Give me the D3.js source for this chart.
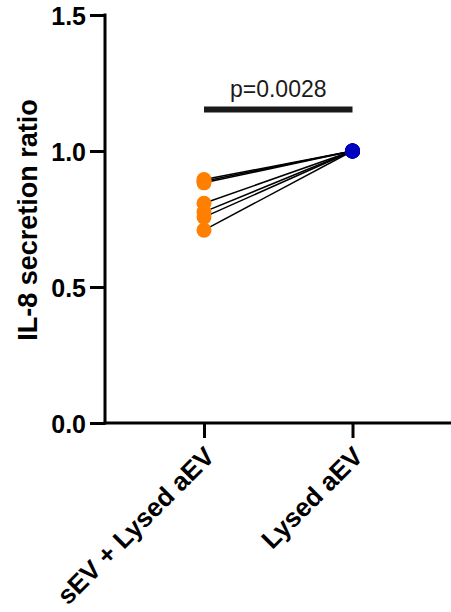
<!DOCTYPE html>
<html><head><meta charset="utf-8">
<script src="https://cdn.jsdelivr.net/npm/d3@7"></script>
<style>body{margin:0;background:#fff}svg{display:block}</style>
</head><body>
<svg id="c" width="451" height="612"></svg>
<script>
const categories = ["sEV + Lysed aEV", "Lysed aEV"];
const beforeValues = [0.895, 0.889, 0.883, 0.808, 0.776, 0.757, 0.709];
const afterValues = [1.0, 1.0, 1.0, 1.0, 1.0, 1.0, 1.0];
const yTicks = [0.0, 0.5, 1.0, 1.5];
const pLabel = "p=0.0028";
const yTitle = "IL-8 secretion ratio";
const pointColors = ["#FF8000", "#0000BF"];

const svg = d3.select("#c");
const font = "'Liberation Sans', Arial, sans-serif";
const x0 = 105, yBottom = 423, yTop = 15;

const y = d3.scaleLinear().domain([0, 1.5]).range([yBottom, yTop]);
const x = d3.scalePoint().domain(categories).range([204, 352.5]);

// axes
const yAxis = svg.append("g").attr("transform", `translate(${x0},0)`)
  .call(d3.axisLeft(y).tickValues(yTicks).tickFormat(d3.format(".1f")).tickSize(15).tickPadding(4));
yAxis.select(".domain").remove();
yAxis.selectAll(".tick line").attr("stroke", "#000").attr("stroke-width", 3);
yAxis.selectAll(".tick text").attr("font-family", font).attr("font-size", 25).attr("font-weight", "bold").attr("fill", "#000").attr("dy", "0.36em");
svg.append("line").attr("x1", x0).attr("x2", x0).attr("y1", yTop - 1.5).attr("y2", yBottom + 1.5).attr("stroke", "#000").attr("stroke-width", 3);

const xAxis = svg.append("g").attr("transform", `translate(0,${yBottom})`)
  .call(d3.axisBottom(x).tickSize(15).tickFormat(""));
xAxis.select(".domain").remove();
xAxis.selectAll(".tick line").attr("stroke", "#000").attr("stroke-width", 3);
svg.append("line").attr("x1", x0 - 1.5).attr("x2", 451).attr("y1", yBottom).attr("y2", yBottom).attr("stroke", "#000").attr("stroke-width", 3);

svg.selectAll(".xlab").data(categories).enter().append("text")
  .attr("transform", d => `translate(${x(d) + 12},${yBottom + 35}) rotate(-45)`)
  .attr("text-anchor", "end").attr("font-family", font).attr("font-size", 26).attr("font-weight", "bold")
  .text(d => d);

// y title
svg.append("text").attr("transform", `translate(37,220) rotate(-90)`)
  .attr("text-anchor", "middle").attr("font-family", font).attr("font-size", 27).attr("font-weight", "bold")
  .text(yTitle);

// connecting lines
const pairs = beforeValues.map((v, i) => [v, afterValues[i]]);
svg.selectAll(".pl").data(pairs).enter().append("line")
  .attr("x1", x(categories[0])).attr("y1", d => y(d[0]))
  .attr("x2", x(categories[1])).attr("y2", d => y(d[1]))
  .attr("stroke", "#000").attr("stroke-width", 1.5);

svg.selectAll(".p0").data(beforeValues).enter().append("circle")
  .attr("cx", x(categories[0])).attr("cy", d => y(d)).attr("r", 7.5).attr("fill", pointColors[0]);
svg.selectAll(".p1").data(afterValues).enter().append("circle")
  .attr("cx", x(categories[1])).attr("cy", d => y(d)).attr("r", 7.5).attr("fill", pointColors[1]);

// significance bar
svg.append("rect").attr("x", x(categories[0])).attr("width", x(categories[1]) - x(categories[0]))
  .attr("y", 106.5).attr("height", 6).attr("fill", "#1a1a1a");
svg.append("text").attr("x", (x(categories[0]) + x(categories[1])) / 2).attr("y", 97)
  .attr("text-anchor", "middle").attr("font-family", font).attr("font-size", 23).attr("fill", "#1a1a1a")
  .text(pLabel);
</script>
</body></html>
